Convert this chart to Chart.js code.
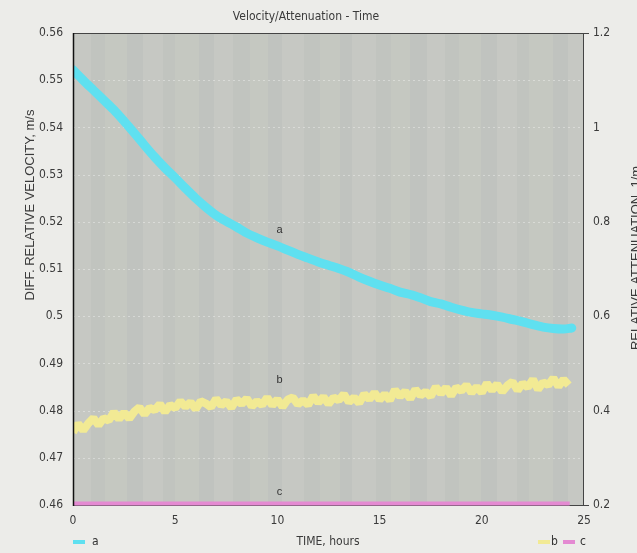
<!DOCTYPE html>
<html>
<head>
<meta charset="utf-8">
<script src="https://cdn.jsdelivr.net/npm/chart.js@4.4.1/dist/chart.umd.min.js"></script>
<style>
html,body{margin:0;padding:0;background:#ecece9;}
#wrap{width:637px;height:553px;position:relative;}
</style>
</head>
<body>
<div id="wrap"><canvas id="c" width="637" height="553"></canvas></div>
<script>
// ---- data ----
const chartTitle = 'Velocity/Attenuation - Time';
const xTitle = 'TIME, hours';
const yLeftTitle = 'DIFF. RELATIVE VELOCITY, m/s';
const yRightTitle = 'RELATIVE ATTENUATION, 1/m';
const seriesNames = ['a', 'b', 'c'];

const aTimes = [0,0.5,1,1.5,2,2.5,3,3.5,4,4.5,5,5.5,6,6.5,7,7.5,8,8.5,9,9.5,10,10.5,11,11.5,12,12.5,13,13.5,14,14.5,15,15.5,16,16.5,17,17.5,18,18.5,19,19.5,20,20.5,21,21.5,22,22.5,23,23.5,24,24.4];
const aValues = [0.5522,0.5500,0.5479,0.5458,0.5437,0.5413,0.5388,0.5362,0.5337,0.5314,0.5293,0.5271,0.5250,0.5231,0.5214,0.5201,0.5189,0.5176,0.5166,0.5157,0.5149,0.5140,0.5131,0.5123,0.5115,0.5108,0.5101,0.5093,0.5083,0.5074,0.5066,0.5059,0.5051,0.5046,0.5039,0.5031,0.5026,0.5019,0.5013,0.5008,0.5005,0.5002,0.4998,0.4993,0.4988,0.4982,0.4977,0.4974,0.4973,0.4975];

const bTimes = [0,0.25,0.5,0.75,1,1.25,1.5,1.75,2,2.25,2.5,2.75,3,3.25,3.5,3.75,4,4.25,4.5,4.75,5,5.25,5.5,5.75,6,6.25,6.5,6.75,7,7.25,7.5,7.75,8,8.25,8.5,8.75,9,9.25,9.5,9.75,10,10.25,10.5,10.75,11,11.25,11.5,11.75,12,12.25,12.5,12.75,13,13.25,13.5,13.75,14,14.25,14.5,14.75,15,15.25,15.5,15.75,16,16.25,16.5,16.75,17,17.25,17.5,17.75,18,18.25,18.5,18.75,19,19.25,19.5,19.75,20,20.25,20.5,20.75,21,21.25,21.5,21.75,22,22.25,22.5,22.75,23,23.25,23.5,23.75,24,24.25];
const bValues = [0.354,0.372,0.358,0.373,0.384,0.369,0.384,0.379,0.397,0.382,0.396,0.383,0.398,0.407,0.392,0.406,0.401,0.414,0.397,0.412,0.405,0.420,0.408,0.418,0.403,0.420,0.415,0.407,0.425,0.411,0.420,0.406,0.424,0.414,0.426,0.409,0.420,0.412,0.428,0.411,0.424,0.408,0.423,0.428,0.413,0.422,0.412,0.431,0.417,0.429,0.414,0.428,0.422,0.435,0.418,0.428,0.416,0.435,0.424,0.438,0.423,0.435,0.422,0.444,0.430,0.441,0.425,0.445,0.432,0.440,0.430,0.450,0.436,0.449,0.432,0.449,0.442,0.454,0.438,0.450,0.438,0.458,0.443,0.456,0.440,0.453,0.461,0.443,0.458,0.449,0.466,0.445,0.460,0.454,0.469,0.451,0.466,0.454];

const cTimes = [0,3,6,9,12,15,18,21,24.3];
const cValues = [0.203,0.203,0.203,0.203,0.203,0.203,0.203,0.203,0.203];

const xTicks = [0,5,10,15,20,25];
const yLeftTicks = [0.46,0.47,0.48,0.49,0.5,0.51,0.52,0.53,0.54,0.55,0.56];
const yRightTicks = [0.2,0.4,0.6,0.8,1,1.2];

// in-plot series labels (time, value, axis)
const labelTimes = [10.1, 10.1, 10.1];
const labelValues = [0.5183, 0.465, 0.2275];
const labelAxes = ['y', 'y1', 'y1'];

const colors = ['#5fe0f0', '#f2ea94', '#e48ad2'];
const NARROW = "'Liberation Sans Narrow','DejaVu Sans Condensed','Liberation Sans',Arial,sans-serif";
const SANS = "'Liberation Sans',Arial,sans-serif";

const pts = (t, v) => t.map((x, i) => ({x: x, y: v[i]}));

const deco = {
  id: 'deco',
  beforeDraw(chart) {
    const {ctx, chartArea: a} = chart;
    ctx.save();
    ctx.fillStyle = '#ecece9';
    ctx.fillRect(0, 0, chart.width, chart.height);
    ctx.fillStyle = '#c3c6c0';
    ctx.fillRect(a.left, a.top, a.right - a.left, a.bottom - a.top);
    // faint scanner-like vertical stripes
    const stripeW = [18, 14, 22, 16, 20, 12, 24, 15, 19, 17];
    const stripeC = ['rgba(255,255,255,0.05)', 'rgba(150,160,190,0.04)', 'rgba(255,255,240,0.04)', 'rgba(120,130,160,0.03)'];
    let x = a.left, k = 0;
    while (x < a.right) {
      const w = stripeW[k % stripeW.length];
      ctx.fillStyle = stripeC[k % stripeC.length];
      ctx.fillRect(x, a.top, Math.min(w, a.right - x), a.bottom - a.top);
      x += w; k++;
    }
    // dotted gridlines
    const y = chart.scales.y;
    ctx.strokeStyle = 'rgba(255,255,255,0.35)';
    ctx.lineWidth = 1;
    ctx.setLineDash([2, 3]);
    yLeftTicks.forEach(v => {
      const py = Math.round(y.getPixelForValue(v)) + 0.5;
      ctx.beginPath(); ctx.moveTo(a.left, py); ctx.lineTo(a.right, py); ctx.stroke();
    });
    ctx.setLineDash([]);
    ctx.restore();
  },
  beforeDatasetsDraw(chart) {
    const {ctx, chartArea: a} = chart;
    ctx.save();
    ctx.lineWidth = 1;
    ctx.strokeStyle = '#444';
    ctx.beginPath();
    ctx.moveTo(a.left, a.bottom + 0.5); ctx.lineTo(a.right + 5, a.bottom + 0.5);
    ctx.stroke();
    ctx.restore();
  },
  afterDraw(chart) {
    const {ctx, chartArea: a, scales} = chart;
    ctx.save();
    // frame
    ctx.lineWidth = 1;
    ctx.strokeStyle = '#444';
    ctx.beginPath();
    ctx.moveTo(a.left, a.top + 0.5); ctx.lineTo(a.right + 5, a.top + 0.5);
    ctx.moveTo(a.right - 0.5, a.top); ctx.lineTo(a.right - 0.5, a.bottom);
    ctx.stroke();
    ctx.strokeStyle = '#111';
    ctx.lineWidth = 1.5;
    ctx.beginPath();
    ctx.moveTo(a.left + 0.5, a.top); ctx.lineTo(a.left + 0.5, a.bottom + 1);
    ctx.stroke();
    // series labels in plot
    ctx.fillStyle = '#333';
    ctx.font = '11px ' + SANS;
    ctx.textAlign = 'center';
    ctx.textBaseline = 'middle';
    seriesNames.forEach((n, i) => {
      const px = scales.x.getPixelForValue(labelTimes[i]);
      const py = scales[labelAxes[i]].getPixelForValue(labelValues[i]);
      ctx.fillText(n, px, py);
    });
    // titles
    ctx.fillStyle = '#3a3a3a';
    ctx.font = '12px ' + NARROW;
    ctx.fillText(chartTitle, 306, 17);
    ctx.fillText(xTitle, 328, 542);
    ctx.save();
    ctx.translate(34, 205);
    ctx.rotate(-Math.PI / 2);
    ctx.textBaseline = 'alphabetic';
    ctx.font = '13px ' + SANS;
    ctx.fillText(yLeftTitle, 0, 0);
    ctx.restore();
    ctx.save();
    ctx.translate(640, 258);
    ctx.rotate(-Math.PI / 2);
    ctx.textBaseline = 'alphabetic';
    ctx.font = '13px ' + SANS;
    ctx.fillText(yRightTitle, 0, 0);
    ctx.restore();
    // legend
    ctx.textAlign = 'left';
    ctx.font = '12px ' + NARROW;
    const leg = [[73, 92], [538, 551], [563, 580]];
    seriesNames.forEach((n, i) => {
      ctx.strokeStyle = colors[i];
      ctx.lineWidth = 4;
      ctx.beginPath(); ctx.moveTo(leg[i][0], 542); ctx.lineTo(leg[i][0] + 12, 542); ctx.stroke();
      ctx.fillStyle = '#333';
      ctx.fillText(n, leg[i][1], 542);
    });
    ctx.restore();
  }
};

new Chart(document.getElementById('c'), {
  type: 'line',
  data: {
    datasets: [
      {label: 'a', data: pts(aTimes, aValues), yAxisID: 'y', borderColor: colors[0], borderWidth: 9, tension: 0.3, pointRadius: 0, borderCapStyle: 'round'},
      {label: 'b', data: pts(bTimes, bValues), yAxisID: 'y1', borderColor: colors[1], borderWidth: 8, tension: 0, pointRadius: 0, borderJoinStyle: 'bevel'},
      {label: 'c', data: pts(cTimes, cValues), yAxisID: 'y1', borderColor: colors[2], borderWidth: 4, tension: 0, pointRadius: 0, clip: false}
    ]
  },
  options: {
    responsive: false,
    animation: false,
    events: [],
    layout: {padding: {top: 33, left: 0, right: 0, bottom: 0}},
    plugins: {legend: {display: false}, title: {display: false}, tooltip: {enabled: false}},
    scales: {
      x: {
        type: 'linear', min: 0, max: 25,
        afterFit: s => { s.height = 48; },
        afterBuildTicks: s => { s.ticks = xTicks.map(v => ({value: v})); },
        grid: {display: false, drawTicks: false},
        border: {display: false},
        ticks: {padding: 9, color: '#3a3a3a', font: {family: NARROW, size: 12}, maxRotation: 0}
      },
      y: {
        position: 'left', min: 0.46, max: 0.56,
        afterFit: s => { s.width = 73; },
        afterBuildTicks: s => { s.ticks = yLeftTicks.map(v => ({value: v})); },
        grid: {display: false, drawTicks: false},
        border: {display: false},
        ticks: {padding: 10, color: '#3a3a3a', font: {family: NARROW, size: 12}, callback: v => String(+v.toFixed(2))}
      },
      y1: {
        position: 'right', min: 0.2, max: 1.2,
        afterFit: s => { s.width = 53; },
        afterBuildTicks: s => { s.ticks = yRightTicks.map(v => ({value: v})); },
        grid: {display: false, drawTicks: false},
        border: {display: false},
        ticks: {padding: 9, color: '#3a3a3a', font: {family: NARROW, size: 12}, callback: v => String(+v.toFixed(1))}
      }
    }
  },
  plugins: [deco]
});
</script>
</body>
</html>
